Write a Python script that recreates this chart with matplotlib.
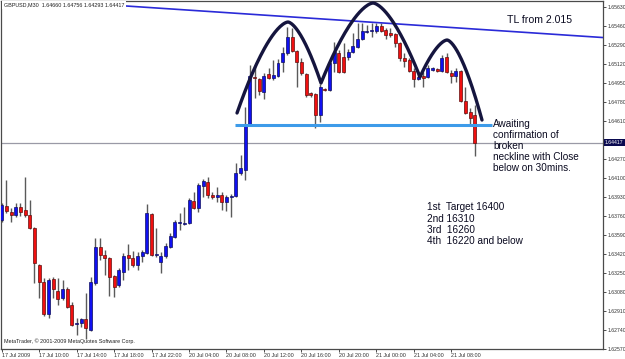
import matplotlib
matplotlib.use("Agg")
import matplotlib.pyplot as plt
import numpy as np

# ---------------- data (GBPUSD M30) ----------------
opens = [1.63724, 1.63849, 1.63796, 1.63769, 1.63841, 1.63814, 1.63769, 1.63653, 1.63321, 1.63169,
         1.62883, 1.63196, 1.63089, 1.63026, 1.63107, 1.62963, 1.62793, 1.62802, 1.62838, 1.62740,
         1.63160, 1.63483, 1.63411, 1.63384, 1.63223, 1.63142, 1.63259, 1.63411, 1.63384, 1.63321,
         1.63402, 1.63429, 1.63778, 1.63411, 1.63348, 1.63402, 1.63483, 1.63572, 1.63697, 1.63688,
         1.63697, 1.63894, 1.63832, 1.64028, 1.64064, 1.63948, 1.63930, 1.63948, 1.63885, 1.63930,
         1.63939, 1.64144, 1.64171, 1.64574, 1.65004, 1.64986, 1.64869, 1.65030, 1.64995, 1.65012,
         1.65138, 1.65218, 1.65362, 1.65236, 1.65138, 1.65030, 1.64860, 1.64851, 1.64663, 1.64896,
         1.64887, 1.65129, 1.65218, 1.65183, 1.65183, 1.65227, 1.65272, 1.65344, 1.65406, 1.65415,
         1.65415, 1.65460, 1.65424, 1.65397, 1.65388, 1.65308, 1.65174, 1.65156, 1.65057, 1.64986,
         1.65012, 1.65004, 1.65066, 1.65075, 1.65057, 1.65183, 1.65039, 1.65012, 1.65057, 1.64789,
         1.64690, 1.64660]
highs = [1.63876, 1.64082, 1.63832, 1.63876, 1.63876, 1.64109, 1.63903, 1.63662, 1.63330, 1.63205,
         1.63205, 1.63214, 1.63205, 1.63187, 1.63125, 1.62990, 1.62847, 1.62847, 1.63071, 1.63214,
         1.63563, 1.63563, 1.63456, 1.63393, 1.63232, 1.63295, 1.63429, 1.63509, 1.63447, 1.63438,
         1.63456, 1.63867, 1.63787, 1.63653, 1.63438, 1.63518, 1.63608, 1.63724, 1.63787, 1.63841,
         1.63921, 1.63975, 1.64055, 1.64091, 1.64109, 1.63975, 1.64020, 1.63975, 1.63948, 1.63957,
         1.64234, 1.64305, 1.64735, 1.65111, 1.65111, 1.64995, 1.65039, 1.65084, 1.65156, 1.65165,
         1.65272, 1.65451, 1.65442, 1.65245, 1.65174, 1.65039, 1.64869, 1.64860, 1.64941, 1.64905,
         1.65156, 1.65317, 1.65245, 1.65308, 1.65254, 1.65397, 1.65487, 1.65487, 1.65469, 1.65487,
         1.65487, 1.65487, 1.65442, 1.65442, 1.65397, 1.65317, 1.65218, 1.65174, 1.65084, 1.65039,
         1.65048, 1.65111, 1.65093, 1.65084, 1.65200, 1.65218, 1.65066, 1.65084, 1.65066, 1.64914,
         1.64726, 1.64756]
lows = [1.63706, 1.63787, 1.63706, 1.63751, 1.63760, 1.63751, 1.63644, 1.63160, 1.63026, 1.62865,
        1.62847, 1.63026, 1.62963, 1.63008, 1.62937, 1.62775, 1.62695, 1.62767, 1.62659, 1.62731,
        1.63142, 1.63366, 1.63232, 1.63044, 1.63035, 1.63125, 1.63187, 1.63277, 1.63304, 1.63277,
        1.63348, 1.63420, 1.63402, 1.63393, 1.63250, 1.63384, 1.63474, 1.63563, 1.63635, 1.63679,
        1.63688, 1.63823, 1.63796, 1.63930, 1.63921, 1.63912, 1.63885, 1.63814, 1.63805, 1.63751,
        1.63930, 1.64126, 1.64082, 1.64565, 1.64816, 1.64842, 1.64807, 1.64986, 1.64977, 1.65004,
        1.65048, 1.65200, 1.65227, 1.64914, 1.65021, 1.64825, 1.64825, 1.64547, 1.64601, 1.64878,
        1.64878, 1.65048, 1.65039, 1.65039, 1.65156, 1.65218, 1.65263, 1.65335, 1.65397, 1.65362,
        1.65397, 1.65406, 1.65344, 1.65362, 1.65272, 1.65147, 1.65093, 1.65048, 1.64914, 1.64977,
        1.64914, 1.64995, 1.65057, 1.65048, 1.65048, 1.65039, 1.64950, 1.64959, 1.64780, 1.64672,
        1.64574, 1.64293]
closes = [1.63858, 1.63805, 1.63769, 1.63841, 1.63796, 1.63769, 1.63653, 1.63339, 1.63169, 1.62883,
          1.63187, 1.63107, 1.63017, 1.63107, 1.62946, 1.62784, 1.62802, 1.62838, 1.62758, 1.63169,
          1.63483, 1.63411, 1.63384, 1.63214, 1.63125, 1.63277, 1.63402, 1.63384, 1.63321, 1.63402,
          1.63438, 1.63787, 1.63411, 1.63420, 1.63402, 1.63491, 1.63581, 1.63706, 1.63706, 1.63697,
          1.63903, 1.63832, 1.64037, 1.64073, 1.63948, 1.63930, 1.63948, 1.63885, 1.63930, 1.63939,
          1.64144, 1.64189, 1.64574, 1.65012, 1.64995, 1.64878, 1.65012, 1.64995, 1.65021, 1.65129,
          1.65218, 1.65362, 1.65236, 1.65138, 1.65039, 1.64842, 1.64842, 1.64663, 1.64914, 1.64887,
          1.65129, 1.65227, 1.65048, 1.65048, 1.65227, 1.65281, 1.65344, 1.65415, 1.65415, 1.65424,
          1.65460, 1.65415, 1.65379, 1.65379, 1.65308, 1.65174, 1.65147, 1.65057, 1.64986, 1.65004,
          1.64995, 1.65084, 1.65084, 1.65057, 1.65174, 1.65048, 1.65012, 1.65057, 1.64789, 1.64681,
          1.64637, 1.64417]

time_labels = ["17 Jul 2009", "17 Jul 10:00", "17 Jul 14:00", "17 Jul 18:00", "17 Jul 22:00",
               "20 Jul 04:00", "20 Jul 08:00", "20 Jul 12:00", "20 Jul 16:00", "20 Jul 20:00",
               "21 Jul 00:00", "21 Jul 04:00", "21 Jul 08:00"]
time_label_bars = [0, 8, 16, 24, 32, 40, 48, 56, 64, 72, 80, 88, 96]
price_ticks = [1.65630, 1.65460, 1.65290, 1.65120, 1.64950, 1.64780, 1.64610, 1.64270, 1.64100,
               1.63930, 1.63760, 1.63590, 1.63420, 1.63250, 1.63080, 1.62910, 1.62740, 1.62570]
bid_price = 1.64417

# annotations (bar index, price)
trend_x = [0.0, 128.4]
trend_y = [1.65713, 1.65357]
neck_x = [49.8, 104.7]
neck_price = 1.64574
hs_x = [50.25, 61.13, 68.18, 79.29, 89.32, 95.09, 102.56]
hs_y = [1.64682, 1.65496, 1.64950, 1.65666, 1.65004, 1.65335, 1.64619]

title_text = "GBPUSD,M30  1.64660 1.64756 1.64293 1.64417"
tl_text = "TL from 2.015"
await_text = "Awaiting\nconfirmation of\nbroken\nneckline with Close\nbelow on 30mins."
target_text = "1st  Target 16400\n2nd 16310\n3rd  16260\n4th  16220 and below"
copyright_text = "MetaTrader, \u00a9 2001-2009 MetaQuotes Software Corp."

# ---------------- figure ----------------
W, H = 625, 359
plt.rcParams['font.family'] = ['Liberation Sans', 'DejaVu Sans']
fig = plt.figure(figsize=(W / 100, H / 100), dpi=100)
fig.patch.set_facecolor('white')
ax = fig.add_axes([1 / W, 1 - 349 / H, 602 / W, 348 / H])
ax.set_facecolor('white')
ax.set_xlim(-0.15, 128.4)
ax.set_ylim(1.62570, 1.65684)

o = np.array(opens); h = np.array(highs); l = np.array(lows); c = np.array(closes)
idx = np.arange(len(o))
up = c >= o
doji = np.abs(c - o) < 0.00002

ax.vlines(idx, l, h, color='#5a5a5a', lw=1.0, zorder=2)
bot = np.minimum(o, c)
hgt = np.maximum(np.abs(c - o), 0.00009)
bw = 0.64
m = up & ~doji
ax.bar(idx[m], hgt[m], bottom=bot[m], width=bw, color='#1010f0', edgecolor='#101060',
       linewidth=0.5, zorder=3)
m = (~up) & ~doji
ax.bar(idx[m], hgt[m], bottom=bot[m], width=bw, color='#f01010', edgecolor='#601010',
       linewidth=0.5, zorder=3)
ax.hlines(c[doji], idx[doji] - bw / 2, idx[doji] + bw / 2, color='#202020', lw=1.2, zorder=3)

# bid line
ax.axhline(bid_price, color='#9a9aa6', lw=0.9, zorder=1)
# trend line
ax.plot(trend_x, trend_y, color='#2a2ad8', lw=1.2, zorder=4, solid_capstyle='butt')
# neckline
ax.plot(neck_x, [neck_price, neck_price], color='#3d9be9', lw=2.2, zorder=4,
        solid_capstyle='butt')

# head & shoulders arches
n_exp = 1.6
px, py = [], []
for k in range(len(hs_x) - 1):
    x0, y0, x1, y1 = hs_x[k], hs_y[k], hs_x[k + 1], hs_y[k + 1]
    xs = np.linspace(x0, x1, 40)
    if k % 2 == 0:   # base -> peak
        ys = y1 - (y1 - y0) * (np.abs(x1 - xs) / abs(x1 - x0)) ** n_exp
    else:            # peak -> base
        ys = y0 - (y0 - y1) * (np.abs(xs - x0) / abs(x1 - x0)) ** n_exp
    px.extend(xs); py.extend(ys)
ax.plot(px, py, color='#15153e', lw=2.4, zorder=5, solid_capstyle='round',
        solid_joinstyle='round', clip_on=False)

# texts
ax.text(107.9, 1.65514, tl_text, fontsize=7.6, color='#0a0a20', va='center', ha='left', zorder=6)
ax.text(104.9, 1.64632, await_text, fontsize=7.2, color='#0a0a20', va='top', ha='left',
        linespacing=1.15, zorder=6)
ax.text(90.8, 1.63882, target_text, fontsize=7.2, color='#0a0a20', va='top', ha='left',
        linespacing=1.15, zorder=6)
ax.text(3 / 602, 8 / 348, copyright_text, transform=ax.transAxes, fontsize=3.9,
        color='#202020', va='center', ha='left')

# axes styling
for s in ax.spines.values():
    s.set_color('#4a4a4a'); s.set_linewidth(0.9)
ax.yaxis.tick_right()
ax.set_yticks(price_ticks)
ax.set_yticklabels([f"{v:.5f}" for v in price_ticks])
ax.tick_params(axis='y', direction='out', length=2.5, width=0.6, pad=1, labelsize=3.7,
               colors='#303030')
ax.set_xticks(time_label_bars)
ax.set_xticklabels(time_labels)
ax.tick_params(axis='x', direction='out', length=2, width=0.6, pad=1.2, labelsize=3.9,
               colors='#303030')
for t in ax.get_xticklabels():
    t.set_horizontalalignment('left')

# bid label on price axis
ax.text(1.003, bid_price, f"{bid_price:.5f}", transform=ax.get_yaxis_transform(),
        fontsize=3.7, color='white', va='center', ha='left', zorder=7,
        bbox=dict(boxstyle='square,pad=0.25', facecolor='#0a0a50', edgecolor='none'),
        clip_on=False)

# title
fig.text(4 / W, 1 - 5 / H, title_text, fontsize=3.9, color='#202020', va='center', ha='left',
         bbox=dict(boxstyle='square,pad=0.3', facecolor='white', edgecolor='none'), zorder=10)

fig.savefig("out.png", dpi=100, facecolor='white')
